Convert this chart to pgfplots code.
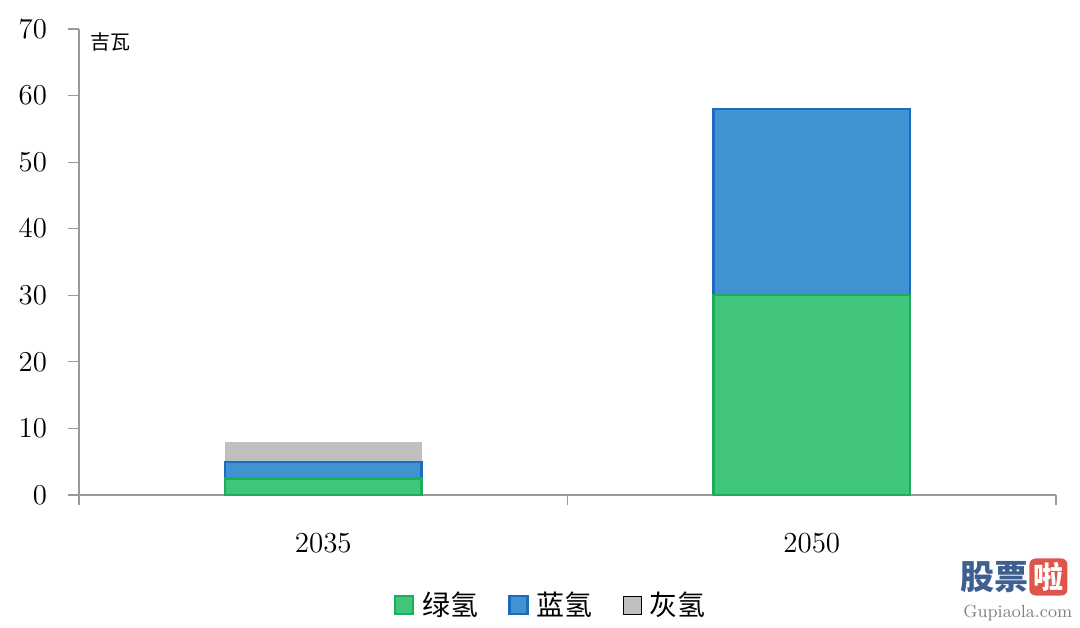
\documentclass[border=0pt]{standalone}
\usepackage{pgfplots}
\pgfplotsset{compat=1.18}
\usepackage{fontspec}
\newfontfamily\cjk{Noto Sans CJK SC}
\definecolor{gfill}{HTML}{41C47B}
\definecolor{gline}{HTML}{1DAF58}
\definecolor{bfill}{HTML}{4192D1}
\definecolor{bline}{HTML}{1B6DBB}
\definecolor{grfill}{HTML}{BFBFBF}
\definecolor{axgray}{HTML}{9A9A9A}
\definecolor{wmblue}{HTML}{3E5F8F}
\definecolor{wmred}{HTML}{E0554A}
\begin{document}
\begin{tikzpicture}
\path[use as bounding box] (-39.5pt,-66pt) rectangle (500.5pt,247.5pt);
\begin{axis}[
  at={(0pt,0pt)}, anchor=south west,
  scale only axis, width=488.5pt, height=233pt,
  xmin=-0.5, xmax=1.5, ymin=0, ymax=70,
  ybar stacked, bar width=0.403,
  axis x line*=bottom, axis y line*=left,
  axis line style={axgray, line width=0.6pt},
  tick style={axgray, line width=0.6pt},
  tick align=outside,
  major tick length=5.5pt, minor tick length=5pt,
  xtick={0,1}, xticklabels={2035,2050},
  minor xtick={-0.5,0.5,1.5},
  major x tick style={draw=none},
  ytick={0,10,...,70},
  xticklabel style={font=\fontsize{14.5}{16}\selectfont, yshift=-10pt},
  yticklabel style={font=\fontsize{14.5}{16}\selectfont, xshift=-7pt},
  legend columns=3,
  legend style={draw=none, fill=none, at={(0.484,-0.236)}, anchor=center,
    font=\cjk\fontsize{14}{16}\selectfont,
    /tikz/every odd column/.append style={column sep=2pt},
    /tikz/every even column/.append style={column sep=13pt}},
  legend image code/.code={\draw[#1] (0pt,-4.5pt) rectangle (9pt,4.5pt);},
  clip=false,
]
\addplot[fill=gfill, draw=gline, line width=1.2pt] coordinates {(0,2.5) (1,30)};
\addplot[fill=bfill, draw=bline, line width=1.2pt] coordinates {(0,2.5) (1,28)};
\addplot[fill=grfill, draw=none] coordinates {(0,3) (1,0)};
\legend{绿氢,蓝氢,灰氢}
\node[anchor=north west, font=\cjk\fontsize{10}{12}\selectfont, inner sep=0pt] at (rel axis cs:0.011,0.993) {吉瓦};
\end{axis}
% watermark
\node[anchor=west, font=\cjk\bfseries\fontsize{17}{18}\selectfont, text=wmblue, inner sep=0pt] at (440.5pt,-41pt) {股票};
\node[anchor=west, fill=wmred, rounded corners=3pt, font=\cjk\bfseries\fontsize{15}{16}\selectfont, text=white, inner sep=2pt] at (475pt,-41pt) {啦};
\node[anchor=west, font=\fontsize{8.8}{10}\selectfont, text=gray, inner sep=0pt] at (442pt,-59pt) {Gupiaola.com};
\end{tikzpicture}
\end{document}
